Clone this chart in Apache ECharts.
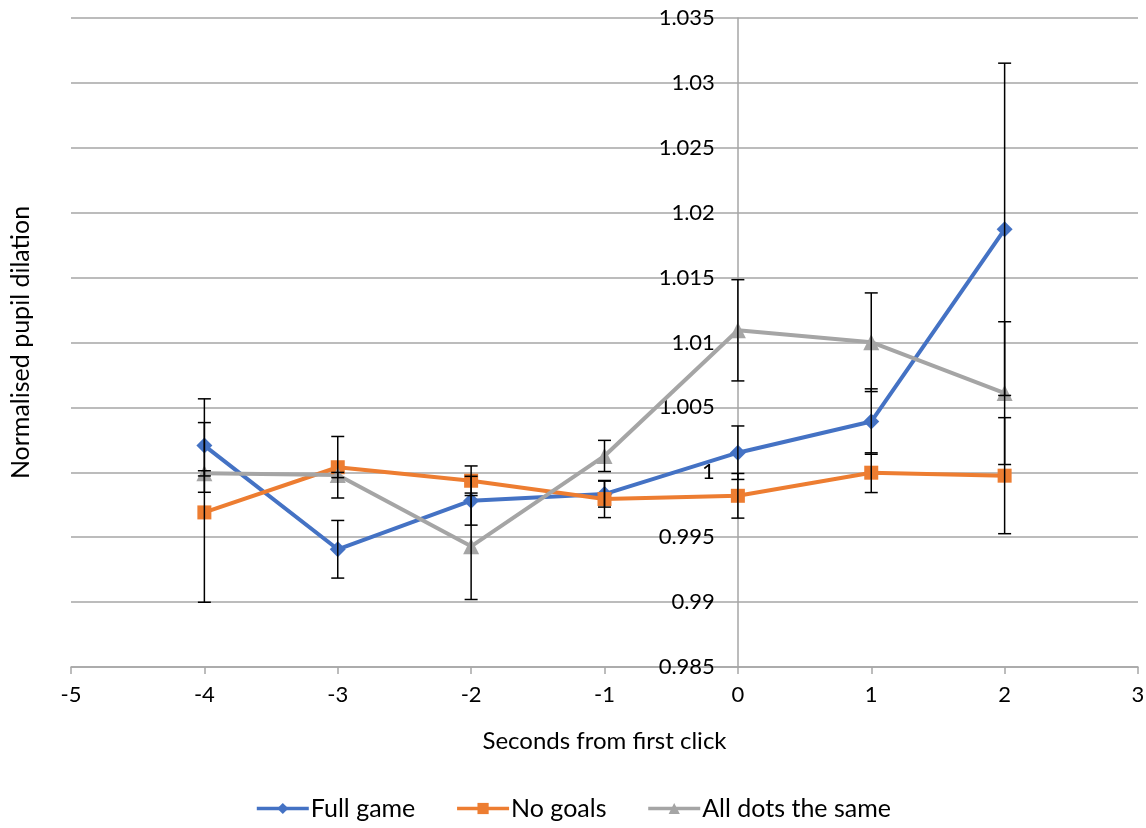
<!DOCTYPE html>
<html>
<head>
<meta charset="utf-8">
<script src="https://cdn.jsdelivr.net/npm/echarts@6/dist/echarts.min.js"></script>
<style>
html,body{margin:0;padding:0;background:#fff;}
#chart{width:1146px;height:828px;}
</style>
</head>
<body>
<div id="chart"></div>
<script>
// ---- data ----
var xValues = [-4, -3, -2, -1, 0, 1, 2];
var fullGame = [1.00206, 0.99407, 0.99781, 0.99832, 1.00151, 1.00391, 1.01872];
var fullGameErr = [0.0036, 0.00222, 0.00188, 0.0010, 0.00206, 0.00252, 0.0128];
var noGoals = [0.99691, 1.00039, 0.99935, 0.99794, 0.99819, 0.99997, 0.99974];
var noGoalsErr = [0.00692, 0.00237, 0.00114, 0.00143, 0.00172, 0.00153, 0.00447];
var allDots = [0.99992, 0.99979, 0.99430, 1.00126, 1.01094, 1.01002, 1.0061];
var allDotsErr = [0.0002, 0.0002, 0.0041, 0.0012, 0.0039, 0.0038, 0.0055];
var seriesNames = ['Full game', 'No goals', 'All dots the same'];
var yTickLabels = ['0.985', '0.99', '0.995', '1', '1.005', '1.01', '1.015', '1.02', '1.025', '1.03', '1.035'];

var FONT = 'Lato';
var colors = ['#4472C4', '#ED7D31', '#A5A5A5'];

var GRID_LEFT = 71, GRID_RIGHT = 8, X_MIN = -5, X_MAX = 3;
var plotW = 1146 - GRID_LEFT - GRID_RIGHT;
// y axis crosses the x axis at x = 0 (Excel style)
var yAxisOffset = -plotW * (0 - X_MIN) / (X_MAX - X_MIN);

function pairs(vals) {
  return xValues.map(function (x, i) { return [x, vals[i]]; });
}
function triples(vals, errs) {
  return xValues.map(function (x, i) { return [x, vals[i], errs[i]]; });
}

function errRender(params, api) {
  var x = api.value(0), y = api.value(1), e = api.value(2);
  var top = api.coord([x, y + e]);
  var bot = api.coord([x, y - e]);
  var h = 6.5;
  var st = { stroke: '#000', lineWidth: 1.5 };
  return {
    type: 'group',
    children: [
      { type: 'line', shape: { x1: top[0], y1: top[1], x2: bot[0], y2: bot[1] }, style: st },
      { type: 'line', shape: { x1: top[0] - h, y1: top[1], x2: top[0] + h, y2: top[1] }, style: st },
      { type: 'line', shape: { x1: bot[0] - h, y1: bot[1], x2: bot[0] + h, y2: bot[1] }, style: st }
    ]
  };
}

var chart = echarts.init(document.getElementById('chart'), null, { renderer: 'canvas' });

var lineDefs = [
  { name: seriesNames[0], data: fullGame, sym: 'diamond', size: 16 },
  { name: seriesNames[1], data: noGoals, sym: 'rect', size: 14 },
  { name: seriesNames[2], data: allDots, sym: 'triangle', size: 16 }
];
var errDefs = [fullGameErr, noGoalsErr, allDotsErr];

var series = [];
lineDefs.forEach(function (d, i) {
  series.push({
    name: d.name,
    type: 'line',
    data: pairs(d.data),
    symbol: d.sym,
    symbolSize: d.size,
    showAllSymbol: true,
    lineStyle: { color: colors[i], width: 4 },
    itemStyle: { color: colors[i] },
    z: 3,
    animation: false
  });
});
lineDefs.forEach(function (d, i) {
  series.push({
    type: 'custom',
    renderItem: errRender,
    data: triples(d.data, errDefs[i]),
    encode: { x: 0, y: 1 },
    z: 5,
    silent: true,
    animation: false
  });
});

chart.setOption({
  backgroundColor: '#fff',
  animation: false,
  color: colors,
  textStyle: { fontFamily: FONT },
  grid: { left: GRID_LEFT, right: GRID_RIGHT, top: 18, bottom: 161, containLabel: false, outerBoundsMode: 'none' },
  legend: {
    data: seriesNames,
    bottom: 2,
    left: 'center',
    itemWidth: 52,
    itemHeight: 14,
    itemGap: 40,
    lineStyle: { width: 3.5 },
    textStyle: { fontFamily: FONT, fontSize: 25, color: '#000', padding: [0, 0, 0, -3] }
  },
  xAxis: {
    type: 'value',
    min: X_MIN, max: X_MAX, interval: 1,
    name: 'Seconds from first click',
    nameLocation: 'middle',
    nameGap: 62,
    nameTextStyle: { fontFamily: FONT, fontSize: 24, color: '#000' },
    axisLine: { onZero: false, lineStyle: { color: '#a6a6a6', width: 1.5 } },
    axisTick: { show: true, length: 7, lineStyle: { color: '#a6a6a6', width: 1.5 } },
    axisLabel: { fontFamily: FONT, fontSize: 22, color: '#000', margin: 17,
      formatter: function (v) { return String(v); } },
    splitLine: { show: false }
  },
  yAxis: {
    type: 'value',
    position: 'left',
    offset: yAxisOffset,
    min: 0.985, max: 1.035, interval: 0.005,
    name: 'Normalised pupil dilation',
    nameLocation: 'middle',
    nameRotate: 90,
    nameGap: 704,
    nameTextStyle: { fontFamily: FONT, fontSize: 25, color: '#000' },
    axisLine: { show: true, onZero: false, lineStyle: { color: '#a6a6a6', width: 1.5 } },
    axisTick: { show: false },
    axisLabel: {
      fontFamily: FONT, fontSize: 22, color: '#000', margin: 23,
      formatter: function (v) {
        var idx = Math.round((v - 0.985) / 0.005);
        return yTickLabels[idx] !== undefined ? yTickLabels[idx] : '';
      }
    },
    splitLine: { show: true, lineStyle: { color: '#a6a6a6', width: 1.5 } }
  },
  series: series
});
</script>
</body>
</html>
